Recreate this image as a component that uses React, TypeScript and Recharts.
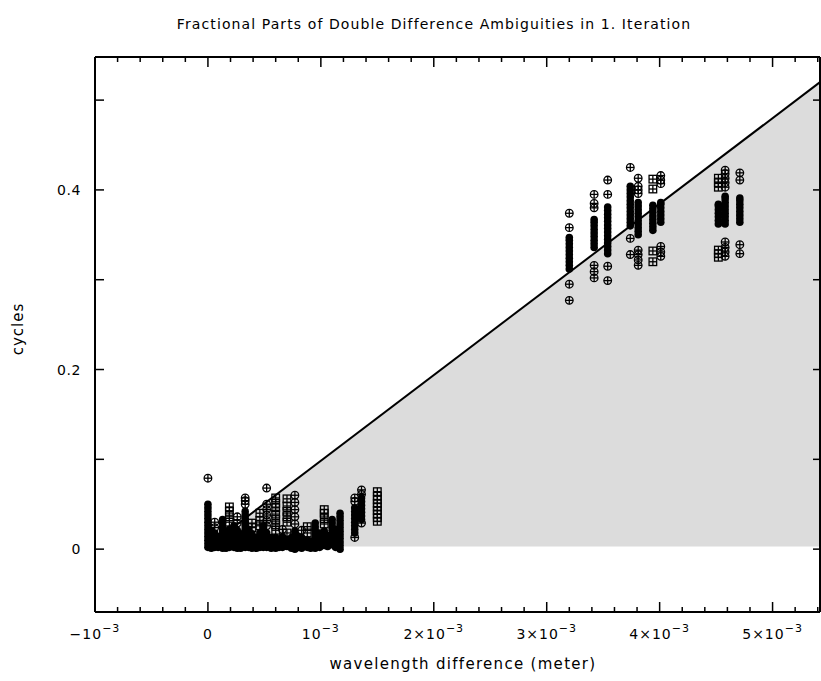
import { ComposedChart, Area, Scatter, XAxis, YAxis } from 'recharts'

// ─── Layout / style ─────────────────────────────────────────────────────────
const W = 821
const H = 681
const INK = '#000000'
const SHADE = '#dcdcdc'
const FONT = '"DejaVu Sans", sans-serif'
const PLOT_TOP = 57
const PLOT_RIGHT = 820

// ─── Axis values (x in units of 10^-3 m) ────────────────────────────────────
const X_DOMAIN = [-1.0, 5.42]
const Y_DOMAIN = [-0.07, 0.548]
const X_TICKS = [-1, -0.8, -0.6, -0.4, -0.2, 0, 0.2, 0.4, 0.6, 0.8, 1, 1.2, 1.4, 1.6, 1.8, 2, 2.2, 2.4, 2.6, 2.8, 3, 3.2, 3.4, 3.6, 3.8, 4, 4.2, 4.4, 4.6, 4.8, 5, 5.2, 5.4]
const X_MAJOR = [-1, 0, 1, 2, 3, 4, 5]
const X_MAJOR_BASE = ['−10', '0', '10', '2×10', '3×10', '4×10', '5×10']
const X_MAJOR_EXP = ['−3', '', '−3', '−3', '−3', '−3', '−3']
const Y_TICKS = [0, 0.1, 0.2, 0.3, 0.4, 0.5]
const Y_LABELED = [0, 0.2, 0.4]
const Y_LABELS = ['0', '0.2', '0.4']

// ─── Reference line: cycles vs wavelength difference ────────────────────────
const LINE_X = [0, 5.42]
const LINE_Y = [0.003, 0.52]
const SHADE_BASE = 0.003

// ─── Fractional parts: tightly packed runs (overlap into solid black) ──────
const DENSE_X = [0.0, 0.03, 0.06, 0.09, 0.13, 0.16, 0.19, 0.23, 0.26, 0.29, 0.33, 0.36, 0.39, 0.43, 0.46, 0.49, 0.52, 0.56,
  0.60, 0.63, 0.66, 0.70, 0.74, 0.77, 0.80, 0.83, 0.88, 0.91, 0.95, 0.99, 1.03, 1.06, 1.10, 1.13, 1.17, 1.30, 1.36,
  3.20, 3.42, 3.54, 3.74, 3.81, 3.94, 4.01, 4.52, 4.58, 4.71]
const DENSE_Y = [
  [0.002, 0.006, 0.010, 0.014, 0.018, 0.022, 0.026, 0.030, 0.034, 0.038, 0.042, 0.046, 0.050],
  [0.001, 0.005, 0.009, 0.013, 0.017, 0.021],
  [0.002, 0.006, 0.010, 0.014, 0.018],
  [0.002, 0.006, 0.010, 0.014],
  [0.001, 0.005, 0.009, 0.013, 0.017, 0.021, 0.025, 0.029, 0.033],
  [0.001, 0.005, 0.009, 0.013, 0.017],
  [0.002, 0.006, 0.010, 0.014, 0.018, 0.022],
  [0.002, 0.006, 0.010, 0.014, 0.018, 0.022, 0.026],
  [0.001, 0.005, 0.009, 0.013, 0.017, 0.021],
  [0.001, 0.005, 0.009, 0.013, 0.017],
  [0.002, 0.006, 0.010, 0.014, 0.018, 0.022, 0.026, 0.030, 0.034, 0.038, 0.042],
  [0.002, 0.006, 0.010, 0.014, 0.018, 0.022],
  [0.001, 0.005, 0.009, 0.013, 0.017],
  [0.001, 0.005, 0.009, 0.013],
  [0.002, 0.006, 0.010, 0.014, 0.018],
  [0.002, 0.006, 0.010, 0.014, 0.018, 0.022, 0.026],
  [0.002, 0.006, 0.010, 0.014, 0.018],
  [0.001, 0.005, 0.009, 0.013],
  [0.001, 0.005, 0.009, 0.013],
  [0.002, 0.006, 0.010],
  [0.002, 0.006, 0.010, 0.014],
  [0.003, 0.007, 0.011],
  [0.001, 0.005, 0.009, 0.013],
  [0.000, 0.004, 0.008, 0.012, 0.016, 0.020],
  [0.002, 0.006, 0.010, 0.014],
  [0.001, 0.005, 0.009, 0.013],
  [0.002, 0.006, 0.010],
  [0.001, 0.005, 0.009],
  [0.001, 0.005, 0.009, 0.013, 0.017, 0.021, 0.025, 0.029],
  [0.002, 0.006, 0.010, 0.014, 0.018],
  [0.004, 0.008, 0.012, 0.016, 0.020],
  [0.003, 0.007, 0.011, 0.015],
  [0.005, 0.009, 0.013, 0.017, 0.021, 0.025, 0.029, 0.033],
  [0.002, 0.006, 0.010, 0.014, 0.018, 0.022],
  [0.000, 0.004, 0.008, 0.012, 0.016, 0.020, 0.024, 0.028, 0.032, 0.036, 0.040],
  [0.018, 0.022, 0.026, 0.030, 0.034, 0.038, 0.042, 0.046],
  [0.033, 0.037, 0.041, 0.045, 0.049, 0.053, 0.057],
  [0.312, 0.316, 0.320, 0.324, 0.328, 0.332, 0.336, 0.340, 0.344, 0.347],
  [0.336, 0.340, 0.344, 0.348, 0.352, 0.356, 0.360, 0.364, 0.367],
  [0.329, 0.333, 0.337, 0.341, 0.345, 0.349, 0.353, 0.357, 0.361, 0.365, 0.369, 0.373, 0.377, 0.381],
  [0.360, 0.364, 0.368, 0.372, 0.376, 0.380, 0.384, 0.388, 0.392, 0.396, 0.400, 0.404],
  [0.350, 0.354, 0.358, 0.362, 0.366, 0.370, 0.374, 0.378, 0.382, 0.386],
  [0.355, 0.359, 0.363, 0.367, 0.371, 0.375, 0.379, 0.383],
  [0.364, 0.368, 0.372, 0.376, 0.380, 0.384, 0.386],
  [0.362, 0.366, 0.370, 0.374, 0.378, 0.382, 0.384],
  [0.362, 0.366, 0.370, 0.374, 0.378, 0.382, 0.386, 0.390, 0.393],
  [0.364, 0.368, 0.372, 0.376, 0.380, 0.384, 0.388, 0.391],
]

// ─── Separate values, ⊕ markers ─────────────────────────────────────────────
const CIRCLE_X = [0.0, 0.06, 0.26, 0.33, 0.52, 0.66, 0.77, 0.83, 1.30, 1.36,
  3.20, 3.42, 3.54, 3.74, 3.81, 4.01, 4.58, 4.71]
const CIRCLE_Y = [
  [0.079],
  [0.024, 0.030],
  [0.029, 0.036],
  [0.050, 0.054, 0.057],
  [0.026, 0.032, 0.038, 0.044, 0.050, 0.068],
  [0.022],
  [0.028, 0.036, 0.044, 0.052, 0.060],
  [0.021],
  [0.013, 0.053, 0.057],
  [0.029, 0.061, 0.066],
  [0.277, 0.295, 0.358, 0.374],
  [0.302, 0.309, 0.316, 0.380, 0.385, 0.395],
  [0.299, 0.315, 0.395, 0.411],
  [0.328, 0.346, 0.425],
  [0.316, 0.322, 0.328, 0.333, 0.396, 0.400, 0.404, 0.413],
  [0.326, 0.331, 0.337, 0.407, 0.411, 0.416],
  [0.326, 0.331, 0.336, 0.342, 0.403, 0.408, 0.413, 0.418, 0.422],
  [0.329, 0.339, 0.411, 0.419],
]

// ─── Separate values, ⊞ markers ─────────────────────────────────────────────
const SQUARE_X = [0.19, 0.39, 0.46, 0.60, 0.70, 0.88, 1.03, 1.50, 3.94, 4.52]
const SQUARE_Y = [
  [0.030, 0.036, 0.042, 0.047],
  [0.024, 0.029],
  [0.026, 0.032, 0.040],
  [0.021, 0.027, 0.033, 0.039, 0.046, 0.051, 0.057],
  [0.018, 0.030, 0.036, 0.042, 0.048, 0.056],
  [0.018, 0.025],
  [0.028, 0.034, 0.040, 0.044],
  [0.031, 0.035, 0.039, 0.043, 0.047, 0.051, 0.055, 0.059, 0.064],
  [0.320, 0.332, 0.401, 0.412],
  [0.325, 0.329, 0.333, 0.403, 0.408, 0.413],
]

const toPoints = (xs: number[], ys: number[][]) =>
  xs.flatMap((x, i) => ys[i].map(y => ({ x, y })))

const isMajorX = (v: number) => X_MAJOR.some(m => Math.abs(m - v) < 1e-6)

const densePts = toPoints(DENSE_X, DENSE_Y)
const circlePts = toPoints(CIRCLE_X, CIRCLE_Y)
const squarePts = toPoints(SQUARE_X, SQUARE_Y)
const lineData = LINE_X.map((x, i) => ({ x, y: LINE_Y[i] }))
// anchors for the mirrored ticks on the top and right frame
const topTickPts = X_TICKS.map(x => ({ x, y: Y_DOMAIN[1], major: isMajorX(x) }))
const rightTickPts = Y_TICKS.map(y => ({ x: X_DOMAIN[1], y }))

// ─── Markers ────────────────────────────────────────────────────────────────
const R = 3.8

function Blob({ cx, cy }: { cx?: number; cy?: number }) {
  if (cx == null || cy == null) return null
  return <circle cx={cx} cy={cy} r={R} fill={INK} stroke="none" />
}

function CrossCircle({ cx, cy }: { cx?: number; cy?: number }) {
  if (cx == null || cy == null) return null
  return (
    <g stroke={INK} strokeWidth={1.3} fill="none">
      <circle cx={cx} cy={cy} r={R} />
      <line x1={cx - R} y1={cy} x2={cx + R} y2={cy} />
      <line x1={cx} y1={cy - R} x2={cx} y2={cy + R} />
    </g>
  )
}

function CrossSquare({ cx, cy }: { cx?: number; cy?: number }) {
  if (cx == null || cy == null) return null
  return (
    <g stroke={INK} strokeWidth={1.3} fill="none">
      <rect x={cx - R} y={cy - R} width={2 * R} height={2 * R} />
      <line x1={cx - R} y1={cy} x2={cx + R} y2={cy} />
      <line x1={cx} y1={cy - R} x2={cx} y2={cy + R} />
    </g>
  )
}

function TopTickMark({ cx, cy, payload }: any) {
  if (cx == null || cy == null) return null
  const len = payload?.major ? 10 : 5
  return <line x1={cx} y1={cy} x2={cx} y2={cy + len} stroke={INK} strokeWidth={1.5} />
}

function RightTickMark({ cx, cy }: any) {
  if (cx == null || cy == null) return null
  return <line x1={cx} y1={cy} x2={cx - 7} y2={cy} stroke={INK} strokeWidth={1.5} />
}

// ─── Axis ticks (inward, like the original plot frame) ─────────────────────
// tickSize=1 + tickMargin=1 → the tick anchor sits 2px outside the axis line
const GAP = 2

function BottomTick({ x, y, payload }: any) {
  const v = payload.value as number
  const k = X_MAJOR.findIndex(m => Math.abs(m - v) < 1e-6)
  const ay = y - GAP
  const len = k >= 0 ? 10 : 5
  return (
    <g>
      <line x1={x} y1={ay} x2={x} y2={ay - len} stroke={INK} strokeWidth={1.5} />
      {k >= 0 && (
        <text x={x} y={ay + 27} textAnchor="middle" fontFamily={FONT} fontSize={14} letterSpacing={1} fill={INK}>
          {X_MAJOR_BASE[k]}
          {X_MAJOR_EXP[k] && <tspan dy={-7} fontSize={11}>{X_MAJOR_EXP[k]}</tspan>}
        </text>
      )}
    </g>
  )
}

function LeftTick({ x, y, payload }: any) {
  const v = payload.value as number
  const k = Y_LABELED.findIndex(m => Math.abs(m - v) < 1e-6)
  const ax = x + GAP
  return (
    <g>
      <line x1={ax} y1={y} x2={ax + 9} y2={y} stroke={INK} strokeWidth={1.5} />
      {k >= 0 && (
        <text x={ax - 14} y={y + 5} textAnchor="end" fontFamily={FONT} fontSize={14} letterSpacing={0.6} fill={INK}>
          {Y_LABELS[k]}
        </text>
      )}
    </g>
  )
}

export default function App() {
  return (
    <div style={{ position: 'absolute', left: 0, top: 0, width: W, height: H, background: '#fff', fontFamily: FONT, color: INK }}>
      <div style={{ position: 'absolute', left: 0, width: 868, top: 16, textAlign: 'center', fontSize: 14, letterSpacing: 1.1, whiteSpace: 'nowrap' }}>
        Fractional Parts of Double Difference Ambiguities in 1. Iteration
      </div>
      <div style={{ position: 'absolute', left: 0, width: 926, top: 655, textAlign: 'center', fontSize: 15, letterSpacing: 1.3, whiteSpace: 'nowrap' }}>
        wavelength difference (meter)
      </div>
      <div style={{ position: 'absolute', left: 18, top: 329, transform: 'translate(-50%, -50%) rotate(-90deg)', fontSize: 15, letterSpacing: 1, whiteSpace: 'nowrap' }}>
        cycles
      </div>

      <ComposedChart width={W} height={H} margin={{ top: PLOT_TOP - 2, right: W - PLOT_RIGHT - 2, bottom: 0, left: 0 }}>
        <XAxis xAxisId={0} type="number" dataKey="x" domain={X_DOMAIN} ticks={X_TICKS} interval={0}
          allowDataOverflow height={69} tickSize={1} tickMargin={1} tickLine={false}
          axisLine={{ stroke: INK, strokeWidth: 2 }} tick={<BottomTick />} />
        <XAxis xAxisId="top" orientation="top" type="number" dataKey="x" domain={X_DOMAIN}
          allowDataOverflow height={2} tick={false} tickLine={false}
          axisLine={{ stroke: INK, strokeWidth: 2 }} />
        <YAxis yAxisId={0} type="number" dataKey="y" domain={Y_DOMAIN} ticks={Y_TICKS} interval={0}
          allowDataOverflow width={95} tickSize={1} tickMargin={1} tickLine={false}
          axisLine={{ stroke: INK, strokeWidth: 2 }} tick={<LeftTick />} />
        <YAxis yAxisId="right" orientation="right" type="number" dataKey="y" domain={Y_DOMAIN}
          allowDataOverflow width={2} tick={false} tickLine={false}
          axisLine={{ stroke: INK, strokeWidth: 2 }} />

        {/* shaded region bound to the mirrored top/right axes (same domains) */}
        <Area data={lineData} dataKey="y" type="linear" baseValue={SHADE_BASE} xAxisId="top" yAxisId="right"
          stroke={INK} strokeWidth={2} fill={SHADE} fillOpacity={1}
          dot={false} activeDot={false} isAnimationActive={false} />

        {/* mirrored ticks along the top and right frame */}
        <Scatter data={topTickPts} shape={<TopTickMark />} isAnimationActive={false} />
        <Scatter data={rightTickPts} shape={<RightTickMark />} isAnimationActive={false} />

        <Scatter data={densePts} shape={<Blob />} isAnimationActive={false} />
        <Scatter data={circlePts} shape={<CrossCircle />} isAnimationActive={false} />
        <Scatter data={squarePts} shape={<CrossSquare />} isAnimationActive={false} />
      </ComposedChart>
    </div>
  )
}
